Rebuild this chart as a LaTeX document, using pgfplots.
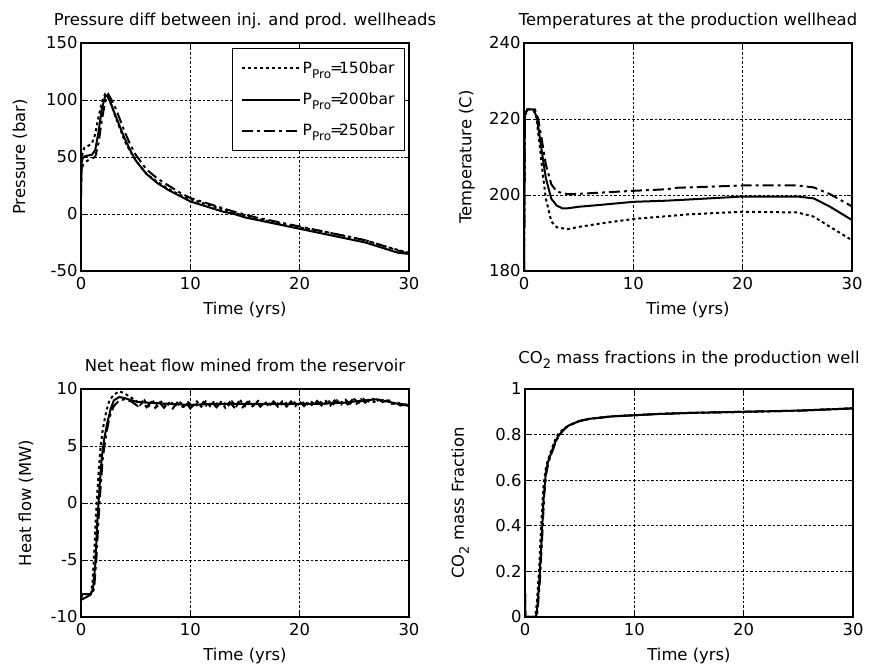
\documentclass[border=0pt]{standalone}
\usepackage{fontspec}
\setmainfont{DejaVu Sans}
\usepackage{pgfplots}
\pgfplotsset{compat=1.18}
\newcommand{\fs}{\fontsize{16.4}{19}\selectfont}
\newcommand{\lfs}{\fontsize{15.5}{18}\selectfont}
\newcommand{\pp}[1]{P\raisebox{-5pt}{\fontsize{12}{12}\selectfont Pro}\kern-1pt=\kern-4pt#1bar}
\pgfplotsset{
  myax/.style={
    scale only axis, width=328pt, height=228pt,
    xmin=0, xmax=30, xtick={0,10,20,30}, xticklabels={0,10,20,30},
    grid=major,
    major grid style={black, dash pattern=on 2.5pt off 2pt, line width=0.8pt},
    axis line style={line width=1.3pt},
    tick style={black, line width=0.8pt}, major tick length=5pt, tick align=inside,
    /pgf/number format/assume math mode=true,
    tick label style={font=\fs},
    xticklabel style={yshift=-3pt},
    every axis title/.style={at={(axis description cs:0.5,1)}, anchor=base, yshift=17pt, font=\fs},
    every axis x label/.style={at={(axis description cs:0.5,0)}, anchor=base, yshift=-44pt, font=\fs},
    xlabel={Time (yrs)},
  },
  s150/.style={black, line width=2pt, dash pattern=on 3pt off 3pt},
  s200/.style={black, line width=2pt},
  s250/.style={black, line width=2pt, dash pattern=on 11pt off 4pt on 3pt off 4pt},
}
\begin{document}
\begin{tikzpicture}
\useasboundingbox (0,0) rectangle (870pt,671pt);
% ---------------- Pressure
\begin{axis}[myax, at={(81pt,400pt)}, anchor=south west,
  ymin=-50, ymax=150, ytick={-50,0,50,100,150}, yticklabels={-50,0,50,100,150},
  title={Pressure diff between inj. and prod. wellheads},
  ylabel={Pressure (bar)},
  every axis y label/.style={at={(axis description cs:-0.186,0.5)}, rotate=90, anchor=center, font=\fs},
  legend style={at={(axis description cs:1,1)}, anchor=north east, xshift=-4pt, yshift=-5pt,
    draw=black, line width=1.2pt, fill=white, font=\lfs, inner xsep=8pt, inner ysep=11pt,
    row sep=14pt, cells={anchor=west}},
  legend image code/.code={\draw[#1] (0pt,0pt) -- (58pt,0pt);},
]
\addplot[s150] coordinates {(0,30) (0.05,50) (0.3,58) (0.7,60) (1.0,62) (1.3,70) (1.6,85) (1.9,98) (2.2,105) (2.5,102) (2.8,95) (3.2,84) (3.6,74) (4,64) (4.5,55) (5,47) (6,35) (7,28) (8,22) (9,17) (10,13) (12,7) (14,1) (16,-4) (18,-8) (20,-12) (22,-15) (24,-19) (26,-23) (28,-29) (30,-34)};
\addlegendentry{\pp{150}}
\addplot[s200] coordinates {(0,17) (0.05,45) (0.2,50) (0.5,51) (1.0,52) (1.3,56) (1.6,72) (1.9,92) (2.2,103) (2.4,104) (2.7,98) (3.0,90) (3.5,78) (4.0,66) (4.5,56) (5,47) (5.5,41) (6,35) (7,27) (8,21) (9,16) (10,11) (11,8) (12,5) (13,2) (14,0) (15,-3) (16,-5) (17,-7) (18,-9) (19,-11) (20,-13) (21,-15) (22,-17) (23,-19) (24,-21) (25,-23) (26,-25) (27,-28) (28,-31) (29,-34) (30,-35)};
\addlegendentry{\pp{200}}
\addplot[s250] coordinates {(0,15) (0.05,40) (0.3,45) (0.8,48) (1.3,50) (1.6,62) (1.9,82) (2.2,98) (2.5,105) (2.8,100) (3.2,92) (3.6,82) (4,72) (4.5,61) (5,52) (6,39) (7,31) (8,25) (9,19) (10,14) (12,8) (14,2) (16,-3) (18,-7) (20,-11) (22,-15) (24,-19) (26,-23) (28,-29) (30,-35)};
\addlegendentry{\pp{250}}
\end{axis}
% ---------------- Temperature
\begin{axis}[myax, at={(524pt,400pt)}, anchor=south west,
  ymin=180, ymax=240, ytick={180,200,220,240}, yticklabels={180,200,220,240},
  title={Temperatures at the production wellhead},
  ylabel={Temperature (C)},
  every axis y label/.style={at={(axis description cs:-0.174,0.5)}, rotate=90, anchor=center, font=\fs},
]
\addplot[s150] coordinates {(0,180) (0.08,221) (0.3,222.5) (0.8,222.5) (1.1,221) (1.4,214) (1.7,206) (2.0,199) (2.5,193) (3,191.5) (4,191) (5,191.6) (7,192.5) (10,193.7) (13,194.4) (15,194.9) (20,195.6) (25,195.4) (26.5,194.3) (28,191.6) (30,188.1)};
\addplot[s200] coordinates {(0,180) (0.08,221) (0.3,222.5) (0.9,222.5) (1.2,220) (1.5,214) (2.0,204.4) (2.5,199) (3,197.2) (3.5,196.5) (4,196.5) (5,196.9) (7,197.4) (10,198.2) (13,198.5) (15,198.8) (20,199.6) (25,199.6) (26.5,199.1) (28,196.9) (30,193.4)};
\addplot[s250] coordinates {(0,180) (0.08,221) (0.3,222.5) (1.0,222.5) (1.3,220) (1.6,215) (2.0,208) (2.5,202.8) (3,200.9) (4,200.2) (5,200.3) (10,201.1) (13,201.5) (14,201.9) (20,202.5) (25,202.5) (26.5,202) (28,200.2) (30,197)};
\end{axis}
% ---------------- Heat flow
\begin{axis}[myax, at={(81pt,54pt)}, anchor=south west,
  ymin=-10, ymax=10, ytick={-10,-5,0,5,10}, yticklabels={-10,-5,0,5,10},
  title={Net heat flow mined from the reservoir},
  ylabel={Heat flow (MW)},
  every axis y label/.style={at={(axis description cs:-0.168,0.5)}, rotate=90, anchor=center, font=\fs},
]
\addplot[s150] coordinates {(0,-8.3) (0.1,-8) (0.9,-8) (1.05,-7) (1.2,-4.5) (1.4,-0.5) (1.6,2.5) (1.8,5) (2.0,6.5) (2.3,8.0) (2.6,9.0) (3.0,9.5) (3.5,9.8) (4,9.6) (4.5,9.3) (5.0,9.0) (5.4,8.6) (5.8,9.0) (6.2,8.5) (6.6,8.9) (7.0,8.5) (7.4,8.95) (7.8,8.45) (8.2,8.9) (8.6,8.5) (9.0,8.9) (9.4,8.45) (9.8,8.85) (10.2,8.5) (10.6,8.9) (11.0,8.45) (11.4,8.9) (11.8,8.5) (12.2,8.95) (12.6,8.5) (13.0,8.9) (13.4,8.45) (13.8,8.9) (14.2,8.5) (14.6,8.95) (15.0,8.5) (15.4,8.9) (15.8,8.55) (16.2,8.95) (16.6,8.5) (17.0,8.9) (17.4,8.55) (17.8,8.95) (18.2,8.5) (18.6,8.9) (19.0,8.55) (19.4,8.95) (19.8,8.55) (20.2,8.9) (20.6,8.55) (21.0,8.95) (21.4,8.6) (21.8,8.95) (22.2,8.6) (22.6,9.0) (23.0,8.6) (23.4,9.0) (23.8,8.65) (24.2,9.05) (24.6,8.7) (25.0,9.1) (25.4,8.8) (25.8,9.15) (26.2,8.85) (26.6,9.2) (27.0,8.9) (27.4,9.15) (27.8,8.9) (28.2,9.0) (28.6,8.7) (29.0,8.8) (29.4,8.6) (29.8,8.65) (30,8.6)};
\addplot[s200] coordinates {(0,-8.5) (0.1,-8) (0.5,-8) (0.9,-8) (1.1,-7.5) (1.3,-5.5) (1.5,-1.5) (1.7,1.5) (1.9,4) (2.1,5.5) (2.4,7) (2.7,8.2) (3.0,9.0) (3.5,9.3) (4,9.2) (5,8.9) (6,8.8) (8,8.7) (10,8.6) (12,8.7) (14,8.7) (16,8.7) (18,8.7) (20,8.7) (22,8.7) (24,8.8) (26,9.0) (27,9.1) (28,8.9) (29,8.7) (30,8.6)};
\addplot[s250] coordinates {(0,-8.5) (1.0,-8) (1.2,-7.5) (1.4,-5) (1.6,-1.5) (1.8,1.5) (2.0,4) (2.3,6) (2.6,7.5) (3.0,8.5) (3.5,9.0) (4,9.1) (4.6,8.9) (5.2,8.5) (5.6,8.9) (6.0,8.4) (6.4,8.85) (6.8,8.35) (7.2,8.8) (7.6,8.35) (8.0,8.85) (8.4,8.3) (8.8,8.8) (9.2,8.35) (9.6,8.8) (10.0,8.3) (10.4,8.8) (10.8,8.35) (11.2,8.85) (11.6,8.35) (12.0,8.8) (12.4,8.4) (12.8,8.85) (13.2,8.35) (13.6,8.85) (14.0,8.4) (14.4,8.85) (14.8,8.4) (15.2,8.85) (15.6,8.4) (16.0,8.9) (16.4,8.45) (16.8,8.85) (17.2,8.45) (17.6,8.9) (18.0,8.45) (18.4,8.9) (18.8,8.45) (19.2,8.9) (19.6,8.5) (20.0,8.9) (20.4,8.5) (20.8,8.9) (21.2,8.5) (21.6,8.95) (22.0,8.55) (22.4,8.95) (22.8,8.55) (23.2,9.0) (23.6,8.6) (24.0,9.0) (24.4,8.65) (24.8,9.05) (25.2,8.7) (25.6,9.1) (26.0,8.8) (26.4,9.1) (26.8,8.85) (27.2,9.1) (27.6,8.85) (28.0,9.0) (28.4,8.7) (28.8,8.75) (29.2,8.55) (29.6,8.6) (30,8.5)};
\end{axis}
% ---------------- CO2
\begin{axis}[myax, at={(525pt,54pt)}, anchor=south west,
  ymin=0, ymax=1, ytick={0,0.2,0.4,0.6,0.8,1}, yticklabels={0,0.2,0.4,0.6,0.8,1},
  title={CO\raisebox{-5pt}{\fontsize{13}{13}\selectfont 2} mass fractions in the production well},
  title style={yshift=8pt},
  ylabel={CO\raisebox{-5pt}{\fontsize{13}{13}\selectfont 2} mass Fraction},
  every axis y label/.style={at={(axis description cs:-0.198,0.5)}, rotate=90, anchor=center, font=\fs},
]
\addplot[s150] coordinates {(0,0.1) (0.03,0) (0.95,0) (1.1,0.07) (1.3,0.22) (1.5,0.42) (1.7,0.58) (1.9,0.65) (2.1,0.69) (2.4,0.73) (2.7,0.77) (3.0,0.80) (3.5,0.825) (4,0.84) (5,0.86) (6,0.87) (7,0.875) (8,0.88) (10,0.885) (12,0.89) (15,0.895) (20,0.9) (25,0.905) (30,0.915)};
\addplot[s200] coordinates {(0,0.1) (0.03,0) (1.0,0) (1.1,0.03) (1.3,0.15) (1.5,0.32) (1.7,0.52) (1.9,0.63) (2.1,0.68) (2.4,0.72) (2.7,0.76) (3.0,0.79) (3.5,0.82) (4,0.84) (5,0.86) (6,0.87) (7,0.875) (8,0.88) (10,0.885) (12,0.89) (15,0.895) (20,0.9) (25,0.905) (30,0.915)};
\addplot[s250] coordinates {(0,0.1) (0.03,0) (1.05,0) (1.15,0.03) (1.35,0.15) (1.55,0.33) (1.75,0.53) (1.95,0.63) (2.15,0.68) (2.45,0.72) (2.75,0.76) (3.05,0.79) (3.5,0.82) (4,0.84) (5,0.86) (6,0.87) (7,0.875) (8,0.88) (10,0.885) (12,0.89) (15,0.895) (20,0.9) (25,0.905) (30,0.915)};
\end{axis}
\end{tikzpicture}
\end{document}
